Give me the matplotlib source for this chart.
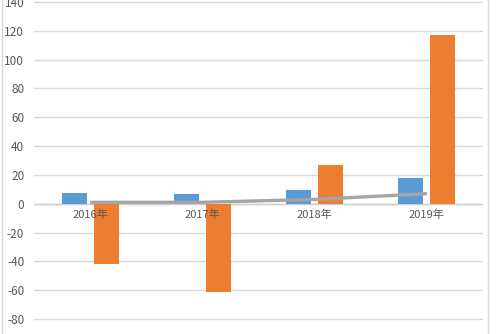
import matplotlib
matplotlib.use('Agg')
import matplotlib.pyplot as plt
from matplotlib.lines import Line2D
import numpy as np

plt.rcParams['font.family'] = ['Noto Sans CJK SC', 'DejaVu Sans']
plt.rcParams['axes.unicode_minus'] = False

years = ['2016年', '2017年', '2018年', '2019年']
blue_vals = [7.6, 6.7, 9.7, 18]
orange_vals = [-42, -61, 26.6, 117]
line_vals = [1, 1, 3, 7]
yticks = list(range(-80, 141, 20))

fig = plt.figure(figsize=(4.99, 3.34), dpi=100)
ax = fig.add_axes([34 / 499, 0, 449 / 499, 1])

x = np.arange(len(years))
w = 0.223
ax.bar(x - 0.143, blue_vals, width=w, color='#5B9BD5', zorder=3)
ax.bar(x + 0.143, orange_vals, width=w, color='#ED7D31', zorder=3)
ax.plot(x, line_vals, color='#A5A5A5', lw=2.4, zorder=4, solid_capstyle='butt')

ax.set_xlim(-0.5, len(years) - 0.5)
ax.set_ylim(-90.4, 141.4)
ax.set_yticks(yticks)
ax.grid(axis='y', color='#d9d9d9', lw=1, zorder=0)
ax.axhline(0, color='#d0d0d0', lw=1, zorder=2)
ax.set_xticks([])
for s in ax.spines.values():
    s.set_visible(False)
ax.tick_params(axis='y', length=0, pad=7, labelsize=8.5, labelcolor='#595959')
for lab in ax.get_yticklabels():
    lab.set_clip_on(False)

for i, name in enumerate(years):
    ax.annotate(name, (i, 0), xytext=(0, -4), textcoords='offset points',
                ha='center', va='top', fontsize=8, color='#595959', zorder=5)

# chart area frame
fig.add_artist(Line2D([2 / 499, 2 / 499], [0, 1], color='#d9d9d9', lw=1))
fig.add_artist(Line2D([488 / 499, 488 / 499], [0, 1], color='#d9d9d9', lw=1))

fig.savefig('out.png', dpi=100)
